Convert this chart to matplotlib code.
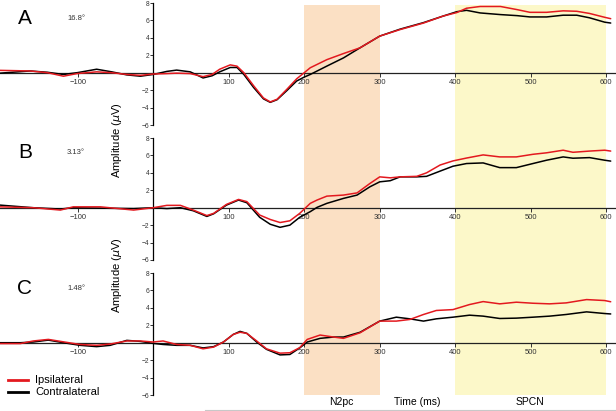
import matplotlib
matplotlib.use("Agg")
import matplotlib.pyplot as plt
from matplotlib.lines import Line2D

plt.rcParams['font.family'] = ['Liberation Sans', 'DejaVu Sans']

# ---------------- data ----------------
panel_labels = ["A", "B", "C"]
panel_angles = ["16.8°", "3.13°", "1.48°"]

time_a = [-203, -163, -140, -119, -101, -75, -55, -35, -17, 0, 18, 31, 49, 66, 78, 88, 102, 111, 120, 133,
          146, 155, 164, 177, 190, 200, 208, 230, 252, 274, 300, 327, 358, 384, 402, 415, 433, 460, 482, 499,
          521, 543, 561, 578, 598, 606]
ipsi_a = [0.27, 0.2, 0.0, -0.4, -0.1, 0.1, 0.0, -0.2, -0.3, -0.15, -0.1, -0.05, -0.1, -0.45, -0.2, 0.4, 0.9, 0.75, 0.0, -1.5,
          -2.9, -3.35, -3.05, -1.9, -0.7, 0.0, 0.57, 1.5, 2.2, 2.86, 4.2, 4.95, 5.7, 6.5, 6.9, 7.4, 7.6, 7.6, 7.24, 6.93,
          6.93, 7.1, 7.05, 6.8, 6.36, 6.2]
contra_a = [-0.05, 0.2, 0.05, -0.2, 0.0, 0.4, 0.1, -0.25, -0.4, -0.2, 0.15, 0.3, 0.1, -0.6, -0.35, 0.1, 0.6, 0.6, -0.2, -1.7,
            -3.0, -3.4, -3.1, -2.05, -0.95, -0.5, -0.2, 0.76, 1.7, 2.86, 4.2, 5.0, 5.75, 6.5, 7.0, 7.16, 6.86, 6.67, 6.55, 6.4,
            6.4, 6.6, 6.6, 6.3, 5.8, 5.7]

time_b = [-203, -159, -123, -106, -70, -26, 0, 18, 36, 53, 71, 80, 97, 113, 124, 141, 155, 168, 181, 194,
          208, 217, 230, 252, 270, 287, 300, 314, 327, 349, 362, 380, 397, 415, 437, 459, 481, 503, 521, 543,
          556, 578, 598, 606]
ipsi_b = [0.1, 0.0, -0.27, 0.1, 0.1, -0.27, 0.0, 0.27, 0.27, -0.27, -0.9, -0.65, 0.38, 0.95, 0.7, -0.84, -1.35, -1.7, -1.5, -0.65,
          0.5, 0.88, 1.33, 1.45, 1.7, 2.78, 3.54, 3.43, 3.54, 3.6, 4.0, 4.9, 5.37, 5.7, 6.06, 5.83, 5.83, 6.13, 6.3, 6.6,
          6.36, 6.5, 6.6, 6.5]
contra_b = [0.3, 0.0, -0.15, 0.0, -0.05, -0.1, 0.0, -0.1, 0.0, -0.35, -1.0, -0.7, 0.3, 0.88, 0.57, -1.1, -1.9, -2.25, -2.0, -1.1,
            -0.45, 0.04, 0.5, 1.07, 1.45, 2.4, 2.97, 3.1, 3.54, 3.54, 3.6, 4.2, 4.76, 5.07, 5.14, 4.6, 4.6, 5.07, 5.45, 5.83,
            5.68, 5.75, 5.45, 5.35]

time_c = [-203, -176, -159, -139, -119, -97, -75, -57, -35, -17, 0, 13, 31, 49, 66, 80, 93, 106, 115, 124,
          137, 150, 168, 181, 194, 204, 221, 239, 252, 274, 300, 322, 340, 358, 375, 397, 419, 437, 459, 481,
          503, 525, 547, 574, 598, 606]
ipsi_c = [-0.1, -0.1, 0.2, 0.38, 0.1, -0.2, -0.3, -0.15, 0.2, 0.2, 0.08, 0.2, -0.2, -0.3, -0.7, -0.5, 0.08, 0.95, 1.2, 1.07,
          0.2, -0.7, -1.2, -1.15, -0.57, 0.38, 0.88, 0.65, 0.5, 1.14, 2.48, 2.48, 2.67, 3.24, 3.7, 3.8, 4.38, 4.72, 4.46, 4.65,
          4.53, 4.46, 4.57, 4.95, 4.84, 4.7]
contra_c = [0.0, 0.0, 0.08, 0.3, 0.0, -0.3, -0.45, -0.3, 0.27, 0.15, -0.08, -0.2, -0.3, -0.3, -0.6, -0.45, 0.08, 0.95, 1.3, 1.07,
            0.08, -0.76, -1.4, -1.35, -0.6, 0.08, 0.5, 0.65, 0.65, 1.2, 2.48, 2.93, 2.74, 2.48, 2.74, 2.93, 3.16, 3.05, 2.78, 2.82,
            2.93, 3.05, 3.24, 3.54, 3.35, 3.3]

x_ticks = [-100, 100, 200, 300, 400, 500, 600]
y_ticks = [-6, -4, -2, 2, 4, 6, 8]
n2pc_window = (200, 300)
spcn_window = (400, 600)

# ---------------- figure ----------------
W, H = 616, 411
fig = plt.figure(figsize=(W / 100, H / 100), dpi=100)
XLIM = (-203, 613)

RED = '#e3191f'
ORANGE = '#fbe0c4'
YELLOW = '#fcf8c9'
GREY = '#333333'


def fx(px):
    return px / W


def fy(py):
    return 1 - py / H


# background shading axes
bg = fig.add_axes([0, fy(395), 1, (395 - 5) / H])
bg.set_xlim(*XLIM)
bg.axvspan(*n2pc_window, color=ORANGE, lw=0)
bg.axvspan(*spcn_window, color=YELLOW, lw=0)
bg.axis('off')
bg.set_zorder(0)

panels = [
    (time_a, ipsi_a, contra_a, 3, 125),
    (time_b, ipsi_b, contra_b, 138, 260),
    (time_c, ipsi_c, contra_c, 273, 395),
]

for i, (t, ip, co, top, bot) in enumerate(panels):
    ax = fig.add_axes([0, fy(bot), 1, (bot - top) / H])
    ax.set_zorder(1 + i)
    ax.patch.set_alpha(0)
    ax.set_xlim(*XLIM)
    ax.set_ylim(-6, 8)
    ax.plot(t, co, color='black', lw=1.1, zorder=3,
            solid_joinstyle='round', solid_capstyle='round')
    ax.plot(t, ip, color=RED, lw=1.1, zorder=4,
            solid_joinstyle='round', solid_capstyle='round')
    for s in ['top', 'right']:
        ax.spines[s].set_visible(False)
    ax.spines['left'].set_position(('data', 0))
    ax.spines['left'].set_bounds(-6, 8)
    ax.spines['bottom'].set_position(('data', 0))
    ax.spines['left'].set_linewidth(0.9)
    ax.spines['bottom'].set_linewidth(0.9)
    ax.spines['bottom'].set_color('#222222')
    ax.set_xticks(x_ticks)
    ax.set_xticklabels([str(v).replace('-', '\u2212') for v in x_ticks])
    ax.set_yticks(y_ticks)
    ax.set_yticklabels([str(v).replace('-', '\u2212') for v in y_ticks])
    ax.tick_params(axis='x', direction='out', length=3, width=0.7, labelsize=5.5,
                   pad=1.5, colors=GREY)
    ax.tick_params(axis='y', direction='out', length=2, width=0.7, labelsize=4.8,
                   pad=0.8, colors=GREY)

    fig.text(fx(25), fy(top + 15), panel_labels[i], fontsize=15, ha='center', va='center')
    fig.text(fx(67), fy(top + 15), panel_angles[i], fontsize=5.5, ha='left', va='center', color=GREY)

# y-axis labels
for yc in (140, 275):
    fig.text(fx(117), fy(yc), r'Amplitude ($\mu$V)', rotation=90, fontsize=8,
             ha='center', va='center', zorder=10)

# bottom annotations
fig.add_artist(Line2D([fx(205), 1], [fy(409.5), fy(409.5)], color='#c8c8c8', lw=0.8))
fig.text(fx(341), fy(402), 'N2pc', fontsize=7.5, ha='center', va='center')
fig.text(fx(417), fy(402), 'Time (ms)', fontsize=7.5, ha='center', va='center')
fig.text(fx(530), fy(402), 'SPCN', fontsize=7.5, ha='center', va='center')

# legend
fig.add_artist(Line2D([fx(8), fx(28)], [fy(380), fy(380)], color=RED, lw=2))
fig.add_artist(Line2D([fx(8), fx(28)], [fy(392), fy(392)], color='black', lw=2))
fig.text(fx(35), fy(380), 'Ipsilateral', fontsize=8, ha='left', va='center')
fig.text(fx(35), fy(392), 'Contralateral', fontsize=8, ha='left', va='center')

fig.savefig('out.png', dpi=100)
